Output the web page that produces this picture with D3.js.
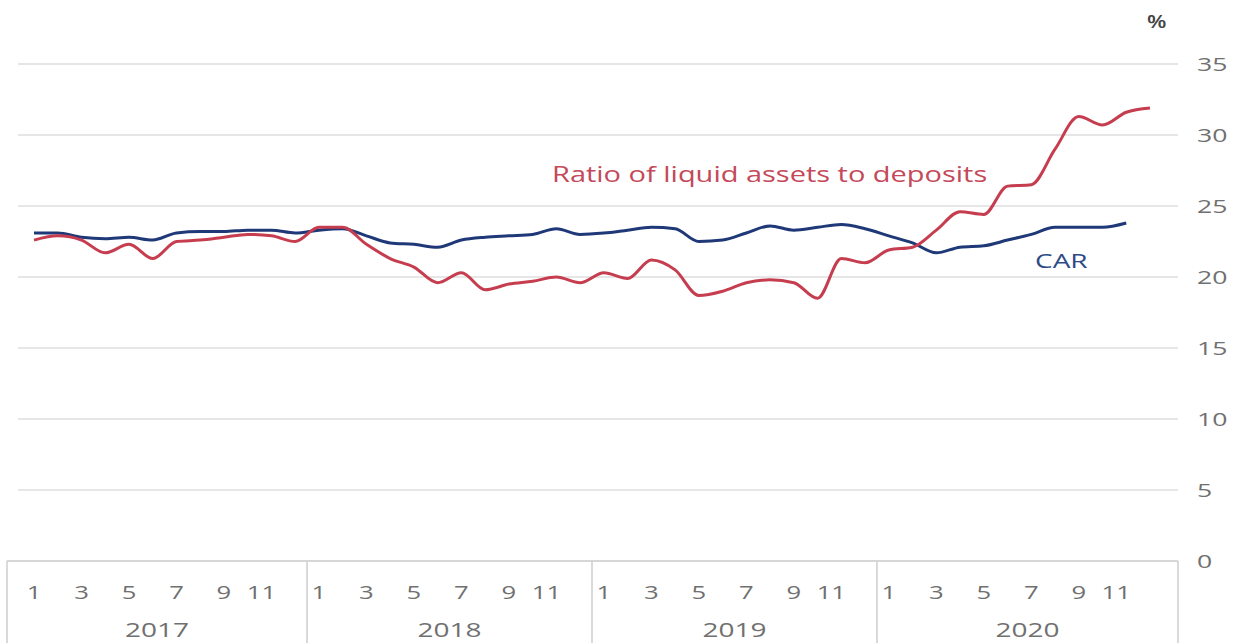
<!DOCTYPE html>
<html><head><meta charset="utf-8">
<script src="https://cdn.jsdelivr.net/npm/d3@7"></script>
<style>body{margin:0;background:#fff}svg{display:block}text{font-family:"Open Sans",sans-serif}</style>
</head><body>
<script>
const years = ["2017","2018","2019","2020"];
const monthTicks = [1,3,5,7,9,11];
const yTicks = [0,5,10,15,20,25,30,35];
const liquidRatio = [
  22.6,22.9,22.6,21.7,22.3,21.3,22.5,22.6,22.8,23.0,22.9,22.5,
  23.5,23.5,22.3,21.3,20.7,19.6,20.3,19.1,19.5,19.7,20.0,19.6,
  20.3,19.9,21.2,20.5,18.7,19.0,19.6,19.8,19.6,18.5,21.3,21.0,
  21.9,22.1,23.3,24.6,24.4,26.4,26.5,29.0,31.3,30.7,31.6,31.9
];
const car = [
  23.1,23.1,22.8,22.7,22.8,22.6,23.1,23.2,23.2,23.3,23.3,23.1,
  23.3,23.4,22.9,22.4,22.3,22.1,22.6,22.8,22.9,23.0,23.4,23.0,
  23.1,23.3,23.5,23.4,22.5,22.6,23.1,23.6,23.3,23.5,23.7,23.4,
  22.9,22.4,21.7,22.1,22.2,22.6,23.0,23.5,23.5,23.5,23.8
];

const W = 1242, H = 643;
const svg = d3.select("body").append("svg").attr("width", W).attr("height", H);

const x = d3.scaleLinear().domain([0, 47]).range([34, 1150]);
const y = d3.scaleLinear().domain([0, 35]).range([561, 64]);
const gridL = 18, gridR = 1178, boxL = 7;

function place(sel, fx, fy, sx) {
  return sel.attr("transform", (d, i) => {
    const tx = typeof fx === "function" ? fx(d, i) : fx;
    const ty = typeof fy === "function" ? fy(d, i) : fy;
    return `translate(${tx},${ty}) scale(${sx},1)`;
  });
}

// gridlines
svg.append("g").selectAll("line").data(yTicks.filter(d => d > 0)).join("line")
  .attr("x1", gridL).attr("x2", gridR)
  .attr("y1", d => y(d)).attr("y2", d => y(d))
  .attr("stroke", "#dedede").attr("stroke-width", 1.6);

// y tick labels
place(svg.append("g").selectAll("text").data(yTicks).join("text")
  .attr("font-size", 19).attr("fill", "#707070")
  .text(d => d), 1197, d => y(d) + 7, 1.4);

place(svg.append("text").attr("font-size", 18)
  .attr("font-weight", 600).attr("fill", "#444").text("%"), 1147, 28, 1.25);

// x axis box
const boxTop = y(0), boxBottom = H;
const bx = svg.append("g").attr("stroke", "#d6d6d6").attr("stroke-width", 1.8).attr("fill", "none");
bx.append("line").attr("x1", boxL).attr("x2", gridR).attr("y1", boxTop).attr("y2", boxTop);
const seps = [boxL, x(11.5), x(23.5), x(35.5), gridR];
bx.selectAll("line.sep").data(seps).join("line").attr("class", "sep")
  .attr("x1", d => d).attr("x2", d => d).attr("y1", boxTop).attr("y2", boxBottom);

// month labels
const mLabels = [];
years.forEach((yr, yi) => monthTicks.forEach(m => mLabels.push({i: yi * 12 + m - 1, m})));
place(svg.append("g").selectAll("text").data(mLabels).join("text")
  .attr("text-anchor", "middle")
  .attr("font-size", 19).attr("fill", "#707070").text(d => d.m),
  d => x(d.i) - (d.m > 9 ? 10 : 0), 599, 1.35);

place(svg.append("g").selectAll("text").data(years).join("text")
  .attr("text-anchor", "middle")
  .attr("font-size", 20).attr("fill", "#707070").text(d => d),
  (d, i) => (seps[i] + seps[i + 1]) / 2, 637, 1.4);

// lines
const line = d3.line().x((d, i) => x(i)).y(d => y(d)).curve(d3.curveMonotoneX);
svg.append("path").datum(car).attr("d", line).attr("fill", "none")
  .attr("stroke", "#1f3877").attr("stroke-width", 3);
svg.append("path").datum(liquidRatio).attr("d", line).attr("fill", "none")
  .attr("stroke", "#c53d4e").attr("stroke-width", 3);

place(svg.append("text").attr("font-size", 21)
  .attr("fill", "#c4495a").text("Ratio of liquid assets to deposits"), 552, 182, 1.38);
place(svg.append("text").attr("font-size", 20)
  .attr("fill", "#2e4a86").text("CAR"), 1035, 268, 1.4);
</script>
</body></html>
